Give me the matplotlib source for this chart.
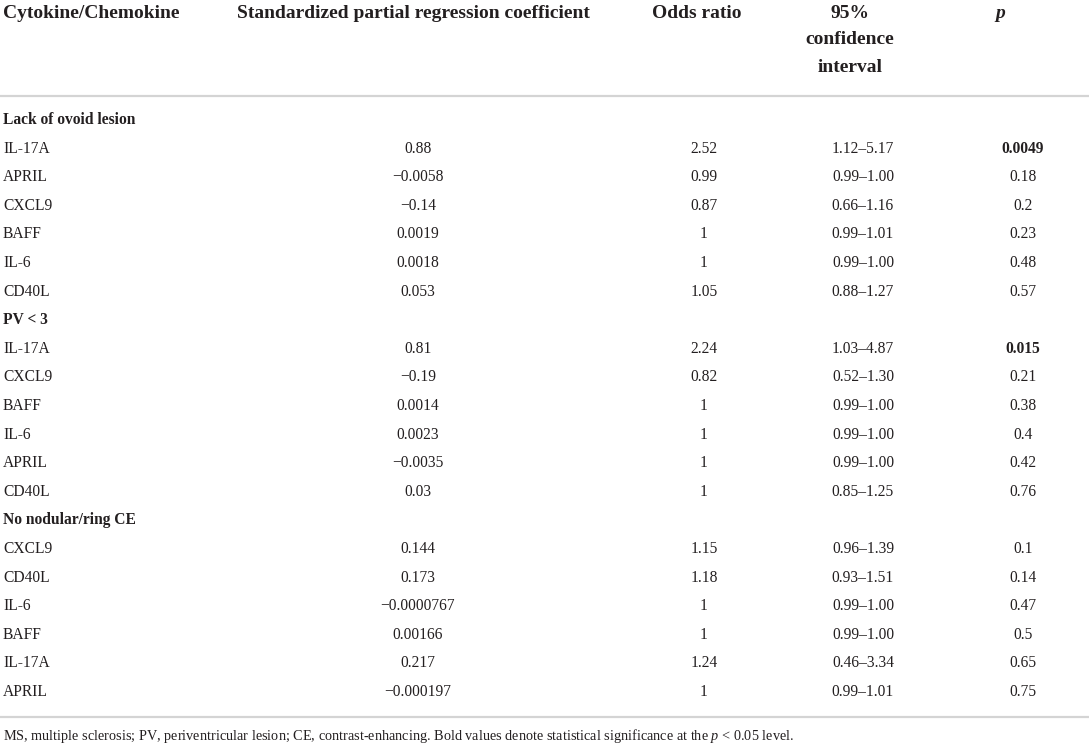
import matplotlib
matplotlib.use("Agg")
import matplotlib.pyplot as plt

plt.rcParams['font.family'] = ['Liberation Serif', 'DejaVu Serif']
plt.rcParams['mathtext.fontset'] = 'custom'
plt.rcParams['mathtext.rm'] = 'Liberation Serif'
plt.rcParams['mathtext.it'] = 'Liberation Serif:italic'

# table data
groups = ['Lack of ovoid lesion', 'PV < 3', 'No nodular/ring CE']
cytokines = [
    ['IL-17A', 'APRIL', 'CXCL9', 'BAFF', 'IL-6', 'CD40L'],
    ['IL-17A', 'CXCL9', 'BAFF', 'IL-6', 'APRIL', 'CD40L'],
    ['CXCL9', 'CD40L', 'IL-6', 'BAFF', 'IL-17A', 'APRIL'],
]
coef = [
    ['0.88', '\u22120.0058', '\u22120.14', '0.0019', '0.0018', '0.053'],
    ['0.81', '\u22120.19', '0.0014', '0.0023', '\u22120.0035', '0.03'],
    ['0.144', '0.173', '\u22120.0000767', '0.00166', '0.217', '\u22120.000197'],
]
odds = [
    ['2.52', '0.99', '0.87', '1', '1', '1.05'],
    ['2.24', '0.82', '1', '1', '1', '1'],
    ['1.15', '1.18', '1', '1', '1.24', '1'],
]
ci = [
    ['1.12\u20135.17', '0.99\u20131.00', '0.66\u20131.16', '0.99\u20131.01', '0.99\u20131.00', '0.88\u20131.27'],
    ['1.03\u20134.87', '0.52\u20131.30', '0.99\u20131.00', '0.99\u20131.00', '0.99\u20131.00', '0.85\u20131.25'],
    ['0.96\u20131.39', '0.93\u20131.51', '0.99\u20131.00', '0.99\u20131.00', '0.46\u20133.34', '0.99\u20131.01'],
]
pvals = [
    ['0.0049', '0.18', '0.2', '0.23', '0.48', '0.57'],
    ['0.015', '0.21', '0.38', '0.4', '0.42', '0.76'],
    ['0.1', '0.14', '0.47', '0.5', '0.65', '0.75'],
]
footnote = ('MS, multiple sclerosis; PV, periventricular lesion; CE, contrast-enhancing. '
            'Bold values denote statistical significance at the $p$ < 0.05 level.')

W, H = 1091, 747
fig = plt.figure(figsize=(W / 100, H / 100), dpi=100)
fig.patch.set_facecolor('white')
ax = fig.add_axes([0, 0, 1, 1])
ax.set_xlim(0, W)
ax.set_ylim(H, 0)
ax.axis('off')

tc = '#231f20'
hs = 14
bs = 11.2

# header
ax.text(3, 13, 'Cytokine/Chemokine', fontsize=hs, fontweight='bold', color=tc, va='center')
ax.text(413, 13, 'Standardized partial regression coefficient', fontsize=hs, fontweight='bold',
        color=tc, va='center', ha='center')
ax.text(697, 13, 'Odds ratio', fontsize=hs, fontweight='bold', color=tc, va='center', ha='center')
for yy, s in zip([13, 40, 67], ['95%', 'confidence', 'interval']):
    ax.text(850, yy, s, fontsize=hs, fontweight='bold', color=tc, va='center', ha='center')
ax.text(1000, 13, 'p', fontsize=hs, fontweight='bold', style='italic', color=tc, va='center', ha='center')

ax.plot([0, 1089], [96, 96], color='#d4d4d4', lw=1.6, solid_capstyle='butt')
ax.plot([0, 1089], [717, 717], color='#d4d4d4', lw=1.6, solid_capstyle='butt')

y0 = 120
pitch = 28.6
row = 0
for g in range(len(groups)):
    y = y0 + row * pitch
    ax.text(3, y, groups[g], fontsize=bs, fontweight='bold', color=tc, va='center')
    row += 1
    for i in range(len(cytokines[g])):
        y = y0 + row * pitch
        ax.text(3, y, cytokines[g][i], fontsize=bs, color=tc, va='center')
        ax.text(418, y, coef[g][i], fontsize=bs, color=tc, va='center', ha='center')
        ax.text(704, y, odds[g][i], fontsize=bs, color=tc, va='center', ha='center')
        ax.text(863, y, ci[g][i], fontsize=bs, color=tc, va='center', ha='center')
        bold = float(pvals[g][i]) < 0.05
        ax.text(1023, y, pvals[g][i], fontsize=bs, color=tc, va='center', ha='center',
                fontweight='bold' if bold else 'normal')
        row += 1

ax.text(3, 736, footnote, fontsize=10.3, color=tc, va='center')

fig.savefig('out.png', dpi=100, facecolor='white')
